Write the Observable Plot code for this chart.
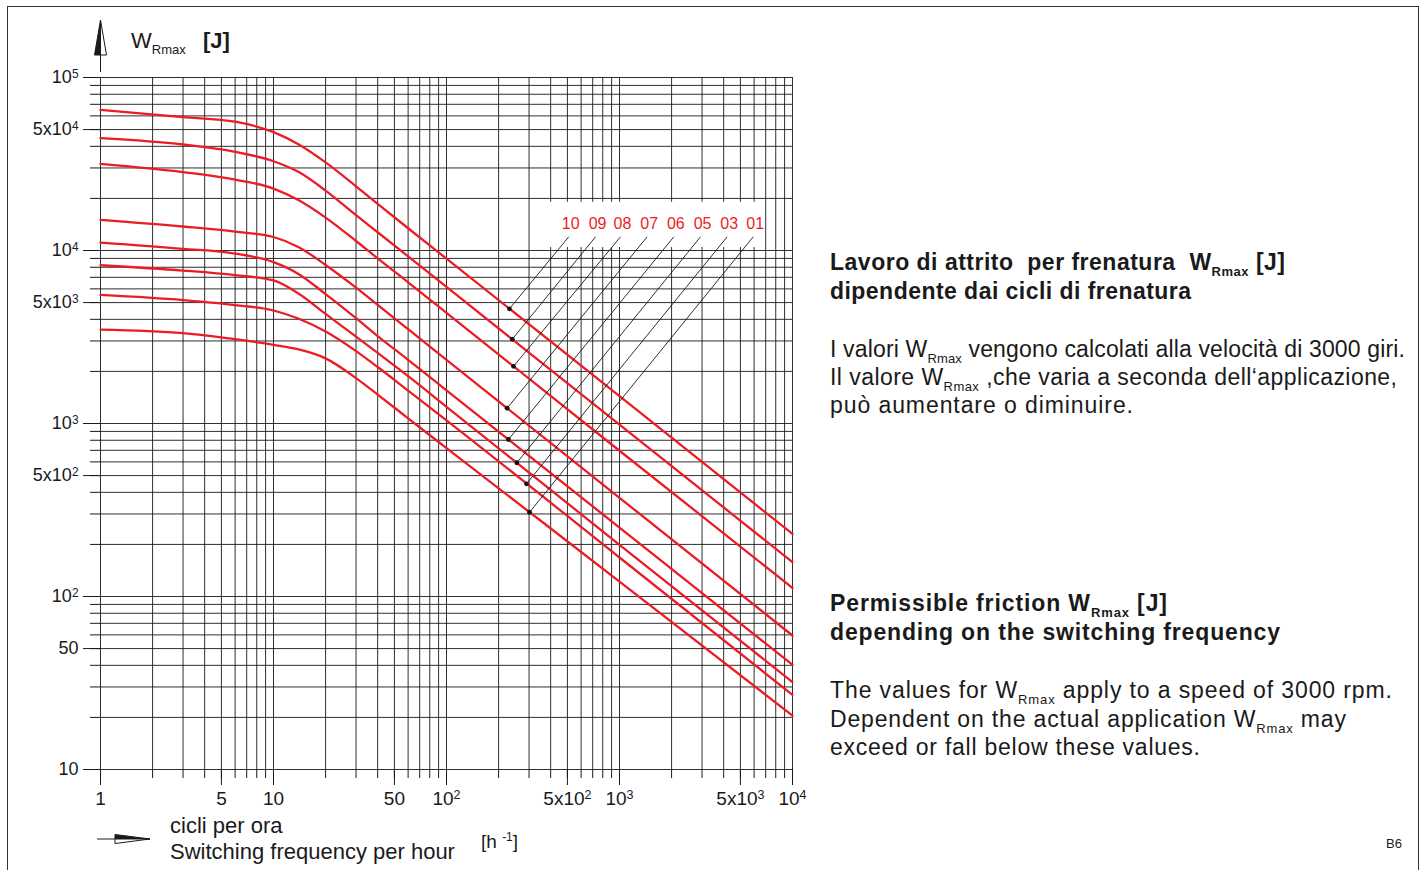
<!DOCTYPE html>
<html><head><meta charset="utf-8">
<script src="https://cdn.jsdelivr.net/npm/d3@7"></script>
<script src="https://cdn.jsdelivr.net/npm/@observablehq/plot@0.6"></script>
<style>
html,body{margin:0;padding:0;background:#fff;overflow:hidden;}
#chart{position:absolute;left:0;top:0;width:1425px;height:870px;overflow:hidden;}
</style></head><body><div id="chart"></div>
<script>
// ---- data ----
const freq = [1, 3, 6, 10, 14, 20, 30, 40, 60, 100, 1000, 10000];          // cycles per hour
const sizes = ["10", "09", "08", "07", "06", "05", "03", "01"];
const w10 = [65000, 59000, 55500, 48300, 41000, 32300, 23500, 18600, 13450, 8970, 1440, 230];
const w09 = [44600, 41000, 37200, 32800, 28400, 22200, 16000, 12750, 9250, 6160, 985, 158];
const w08 = [31700, 28400, 25700, 22800, 19500, 15500, 11350, 9000, 6550, 4360, 696, 112];
const w07 = [15050, 13760, 12850, 11970, 10450, 8250, 6100, 4850, 3510, 2335, 372, 59.5];
const w06 = [11120, 10230, 9600, 8560, 7300, 5600, 4060, 3200, 2334, 1556, 250, 40.3];
const w05 = [8220, 7660, 7200, 6710, 5620, 4300, 3180, 2560, 1877, 1249, 199, 32.0];
const w03 = [5540, 5170, 4840, 4500, 4030, 3400, 2620, 2120, 1550, 1043, 168, 27.0];
const w01 = [3490, 3330, 3070, 2850, 2680, 2380, 1830, 1470, 1071, 721, 122, 20.5];

// callout dots on the curves, leader ends, label positions
const dotFreq = [231, 240, 244, 224, 228, 255, 290, 302];
const dotW    = [4600, 3070, 2140, 1226, 808, 593, 448, 307];
const leadFreq = [509, 727, 1013, 1445, 2060, 2940, 4190, 5930];
const leadW = [12000, 12000, 12000, 12000, 12000, 12000, 12000, 12000];
const labelW = [14300, 14300, 14300, 14300, 14300, 14300, 14300, 14300];

// ticks
const xMajor = [1, 5, 10, 50, 100, 500, 1000, 5000, 10000];
const xMajorLabels = ["1", "5", "10", "50", "10^2", "5x10^2", "10^3", "5x10^3", "10^4"];
const yMajor = [10, 50, 100, 500, 1000, 5000, 10000, 50000, 100000];
const yMajorLabels = ["10", "50", "10^2", "5x10^2", "10^3", "5x10^3", "10^4", "5x10^4", "10^5"];
const mult = [1, 2, 3, 4, 5, 6, 7, 8, 9];
const xMinor = [1, 10, 100, 1000].flatMap(p => mult.map(k => k * p)).concat([10000]);
const yMinor = [10, 100, 1000, 10000].flatMap(p => mult.map(k => k * p)).concat([100000]);

// blank area behind the curve labels
const mask = [{x1: 320, x2: 6500, y1: 10400, y2: 19000}];

const red = "#ec1c24";
const ink = "#1a1a1a";

const series = [w10, w09, w08, w07, w06, w05, w03, w01];
const rows = sizes.flatMap((s, j) => freq.map((f, i) => ({size: s, f, w: series[j][i]})));
const callouts = sizes.map((s, i) => ({size: s, dx: dotFreq[i], dy: dotW[i], lx: leadFreq[i], ly: leadW[i], ty: labelW[i]}));
const xTicks = xMajor.map((v, i) => ({v, label: xMajorLabels[i]}));
const yLab = new Map(yMajor.map((v, i) => [v, yMajorLabels[i]]));

const plot = Plot.plot({
  width: 1425, height: 870,
  marginLeft: 100, marginRight: 633, marginTop: 77, marginBottom: 101,
  x: {type: "log", domain: [1, 1e4], label: null},
  y: {type: "log", domain: [10, 1e5], label: null},
  style: {fontFamily: "'Liberation Sans', Arial, sans-serif", fontSize: "18px", background: "#fff", color: ink},
  marks: [
    Plot.gridX(xMinor, {stroke: ink, strokeOpacity: 0.9, strokeWidth: 1}),
    Plot.gridY(yMinor, {stroke: ink, strokeOpacity: 0.9, strokeWidth: 1}),
    Plot.axisX(xMinor, {tickSize: 9, tickFormat: () => "", label: null, color: ink}),
    Plot.axisX(xMajor, {tickSize: 16, tickFormat: () => "", label: null, color: ink}),
    Plot.text(xTicks, {x: "v", frameAnchor: "bottom", lineAnchor: "middle", dy: 29, text: "label", fill: ink, fontSize: 19}),
    Plot.axisY(yMinor, {tickSize: 10, tickFormat: () => "", label: null, color: ink}),
    Plot.axisY(yMajor, {tickSize: 17, tickPadding: 5, tickFormat: d => yLab.get(d), label: null, color: ink}),
    Plot.rect(mask, {x1: "x1", x2: "x2", y1: "y1", y2: "y2", fill: "#fff"}),
    Plot.line(rows, {x: "f", y: "w", z: "size", stroke: red, strokeWidth: 2.3, curve: "monotone-x"}),
    Plot.link(callouts, {x1: "dx", y1: "dy", x2: "lx", y2: "ly", stroke: ink, strokeWidth: 0.9}),
    Plot.dot(callouts, {x: "dx", y: "dy", r: 2.4, fill: "#111"}),
    Plot.text(callouts, {x: "lx", y: "ty", dx: 2, text: "size", fill: red, fontSize: 16})
  ]
});

const svg = d3.select(plot);
// superscripts in tick labels
svg.selectAll("text").each(function () {
  const t = this.textContent;
  if (t.includes("^")) {
    const [b, s] = t.split("^");
    this.textContent = b;
    d3.select(this).append("tspan").attr("dy", "-0.45em").attr("font-size", "0.66em").text(s);
  }
});

// ---- annotation texts ----
function addLine(x, y, parts, o) {
  const t = svg.append("text").attr("x", x).attr("y", y)
    .attr("text-anchor", "start")
    .attr("font-size", o.size).attr("fill", ink)
    .attr("font-weight", o.bold ? "bold" : null)
    .style("white-space", "pre");
  let shift = 0;
  parts.forEach(([s, k]) => {
    const ts = t.append("tspan").text(s);
    const target = k === "sub" ? (o.subDy || 6) : k === "sup" ? -(o.supDy || 7) : 0;
    if (target - shift !== 0) ts.attr("dy", target - shift);
    shift = target;
    if (k) ts.attr("font-size", o.subSize || 13);
  });
  if (o.len) t.attr("textLength", o.len).attr("lengthAdjust", "spacing");
  return t;
}

const it1 = [["Lavoro di attrito  per frenatura  W"], ["Rmax", "sub"], [" [J]"]];
const it2 = [["dipendente dai cicli di frenatura"]];
const it3 = [["I valori W"], ["Rmax", "sub"], [" vengono calcolati alla velocità di 3000 giri."]];
const it4 = [["Il valore W"], ["Rmax", "sub"], [" ,che varia a seconda dell‘applicazione,"]];
const it5 = [["può aumentare o diminuire."]];
const en1 = [["Permissible friction W"], ["Rmax", "sub"], [" [J]"]];
const en2 = [["depending on the switching frequency"]];
const en3 = [["The values for W"], ["Rmax", "sub"], [" apply to a speed of 3000 rpm."]];
const en4 = [["Dependent on the actual application W"], ["Rmax", "sub"], [" may"]];
const en5 = [["exceed or fall below these values."]];

addLine(830, 270, it1, {size: 23, bold: true, len: 455});
addLine(830, 299, it2, {size: 23, bold: true, len: 361});
addLine(830, 357, it3, {size: 23, len: 575});
addLine(830, 385, it4, {size: 23, len: 567});
addLine(830, 413, it5, {size: 23, len: 303});
addLine(830, 611, en1, {size: 23, bold: true, len: 337});
addLine(830, 640, en2, {size: 23, bold: true, len: 450});
addLine(830, 698, en3, {size: 23, len: 562});
addLine(830, 727, en4, {size: 23, len: 516});
addLine(830, 755, en5, {size: 23, len: 370});

// axis titles
addLine(131, 48, [["W"], ["Rmax", "sub"]], {size: 22, subSize: 13});
addLine(203, 48, [["[J]"]], {size: 22, bold: true});
addLine(170, 833, [["cicli per ora"]], {size: 22});
addLine(170, 859, [["Switching frequency per hour"]], {size: 22});
addLine(481, 848, [["[h "], ["-1", "sup"], ["]"]], {size: 19, subSize: 12, supDy: 7});
addLine(1386, 848, [["B6"]], {size: 13});

// arrows
const g = svg.append("g").attr("stroke", ink).attr("stroke-width", 1);
g.append("line").attr("x1", 100.5).attr("x2", 100.5).attr("y1", 55).attr("y2", 72);
g.append("path").attr("d", "M100.5,20 L94.5,55 L100.5,55 Z").attr("fill", ink);
g.append("path").attr("d", "M100.5,20 L106.5,55 L100.5,55 Z").attr("fill", "#fff");
g.append("line").attr("x1", 97).attr("x2", 115).attr("y1", 839).attr("y2", 839);
g.append("path").attr("d", "M150,839 L115,834.5 L115,839 Z").attr("fill", ink);
g.append("path").attr("d", "M150,839 L115,843.5 L115,839 Z").attr("fill", "#fff");
// page frame
svg.append("rect").attr("x", 7.5).attr("y", 6.5).attr("width", 1411).attr("height", 880)
  .attr("fill", "none").attr("stroke", "#333").attr("stroke-width", 1);

document.getElementById("chart").appendChild(plot);
</script></body></html>
